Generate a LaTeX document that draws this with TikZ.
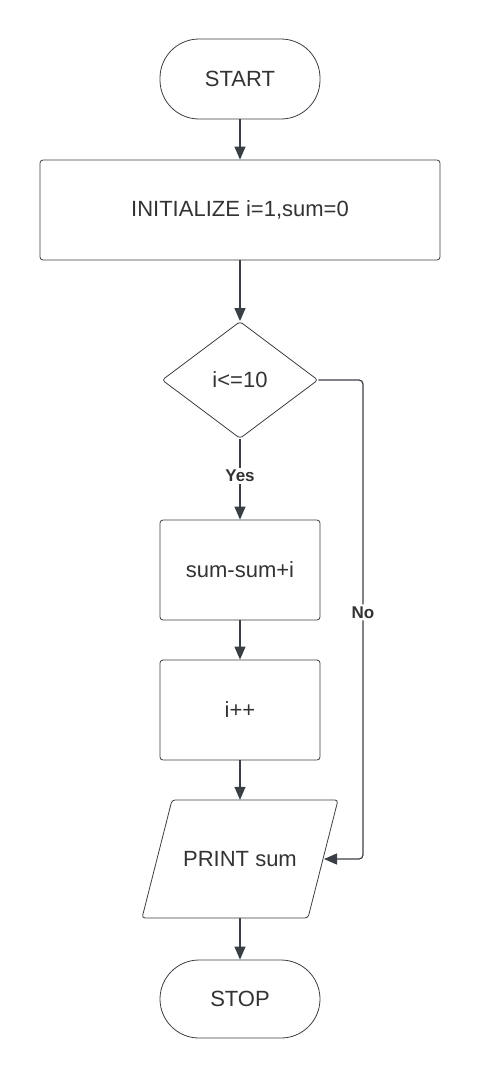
\documentclass[tikz,border=0pt]{standalone}
\usepackage{fontspec}
\setmainfont{Liberation Sans}
\usetikzlibrary{shapes.geometric,arrows.meta}
\definecolor{ln}{HTML}{3A3F45}
\definecolor{tx}{HTML}{333333}
\begin{document}
\begin{tikzpicture}[x=1pt,y=-1pt,
  every node/.style={text=tx,font=\fontsize{22}{24}\selectfont},
  term/.style={draw=ln,line width=0.8pt,rounded corners=39pt,minimum width=160pt,minimum height=80pt,inner sep=0pt},
  proc/.style={draw=ln,line width=0.8pt,rounded corners=3pt,minimum width=160pt,minimum height=100pt,inner sep=0pt},
  dec/.style={draw=ln,line width=0.8pt,diamond,rounded corners=3pt,minimum width=156pt,minimum height=117pt,inner sep=0pt,aspect=1.33},
  io/.style={minimum width=166pt,minimum height=118pt,inner sep=0pt},
  shapeline/.style={draw=ln,line width=0.8pt,rounded corners=3pt},
  conn/.style={draw=ln,line width=1.2pt,-{Triangle[length=13pt,width=11pt]}},
  lbl/.style={fill=white,font=\bfseries\fontsize{17}{19}\selectfont,inner sep=2pt}]
\useasboundingbox (0,0) rectangle (480,1080);
\node[term] (start) at (240,79) {START};
\node[proc,minimum width=400pt] (init) at (240,210) {INITIALIZE i=1,sum=0};
\node[dec] (dec) at (240,380) {i<=10};
\node[proc] (sum) at (240,570) {sum-sum+i};
\node[proc] (inc) at (240,710) {i++};
\node[io] (print) at (240,859) {PRINT sum};
\draw[shapeline] (172,800) -- (338,800) -- (308,918) -- (142,918) -- cycle;
\node[term,minimum height=78pt] (stop) at (240,999) {STOP};
\coordinate (c1) at (363,380);
\coordinate (c2) at (363,859);
\coordinate (pe) at (324,859);
\draw[conn] (start) -- (init);
\draw[conn] (init) -- (dec);
\draw[conn] (dec.south) -- node[lbl,pos=0.46]{Yes} (sum.north);
\draw[conn] (sum) -- (inc);
\draw[conn] (inc) -- (print);
\draw[conn] (print) -- (stop);
\draw[conn,rounded corners=4pt] (dec.east) -- (c1) -- node[lbl,pos=0.485]{No} (c2) -- (pe);
\end{tikzpicture}
\end{document}
